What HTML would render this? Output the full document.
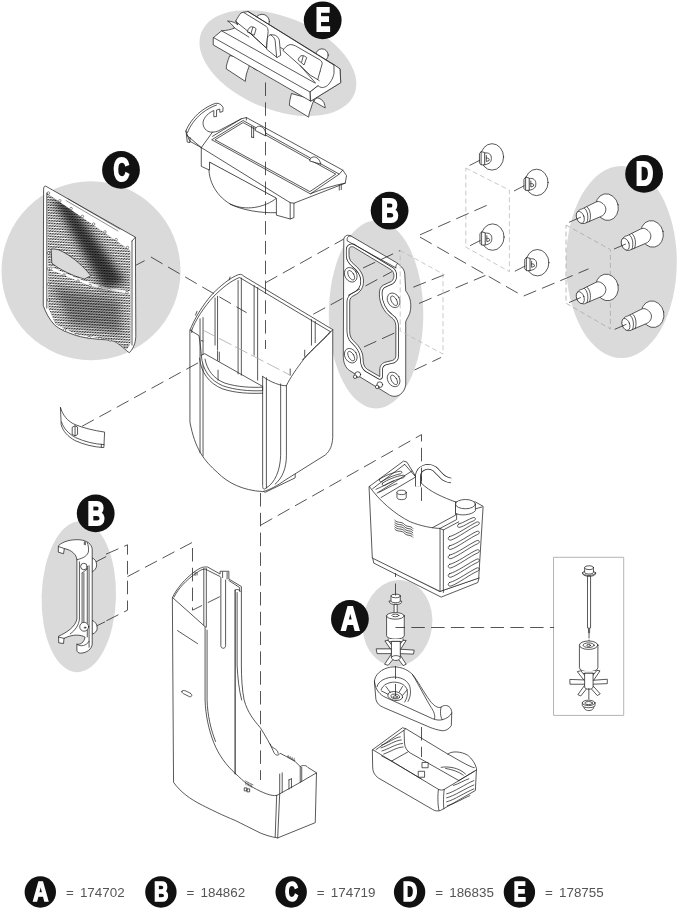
<!DOCTYPE html>
<html lang="en"><head><meta charset="utf-8"><title>Exploded parts diagram</title>
<style>
html,body{margin:0;padding:0;background:#fff;}
body{width:679px;height:910px;overflow:hidden;font-family:"Liberation Sans",sans-serif;}
svg{display:block;}
svg *{vector-effect:non-scaling-stroke;}
.l{fill:none;stroke:#222;stroke-width:.75;stroke-linejoin:round;stroke-linecap:round;vector-effect:non-scaling-stroke;}
.w{fill:#fff;stroke:#222;stroke-width:.75;stroke-linejoin:round;stroke-linecap:round;vector-effect:non-scaling-stroke;}
.d{fill:none;stroke:#2a2a2a;stroke-width:.8;stroke-dasharray:13.5 6.3;vector-effect:non-scaling-stroke;}
.g{fill:none;stroke:#bbb;stroke-width:.8;stroke-dasharray:5 3;vector-effect:non-scaling-stroke;}
.blob{fill:#dadada;}
.badge circle{fill:#111;}
.badge text{fill:#fff;font-family:"Liberation Sans",sans-serif;font-weight:bold;font-size:30px;text-anchor:middle;}
.leg{fill:#555;font-family:"Liberation Sans",sans-serif;font-size:13.4px;}
</style></head><body>
<svg width="679" height="910" viewBox="0 0 679 910">
<rect width="679" height="910" fill="#fff"/>
<!-- 00_blobs.svg -->
<g class="blob">
<ellipse cx="277.9" cy="63.1" rx="82.5" ry="46.4" transform="rotate(22 277.9 63.1)"/>
<circle cx="91" cy="270.7" r="89.5"/>
<ellipse cx="376.05" cy="314.5" rx="47.25" ry="94"/>
<ellipse cx="621.4" cy="262" rx="55.4" ry="96"/>
<ellipse cx="78.8" cy="596.7" rx="37.2" ry="75.5" transform="rotate(1.5 78.8 596.7)"/>
<ellipse cx="397.5" cy="623.2" rx="34.8" ry="43.3" transform="rotate(7 397.5 623.2)"/>
</g>

<!-- 10_E.svg -->
<g transform="translate(190 0) scale(.2504)">
<!-- under tabs -->
<path class="w" d="M158 224 C150 245 144 262 145 275 L221 325 C222 305 228 285 235 268 C238 255 242 242 246 232 Z"/>
<path class="w" d="M405 375 C400 392 397 408 397 421 L474 468 C475 455 478 445 482 436 C486 422 490 410 495 400 Z"/>
<path class="w" d="M495 404 C500 394 506 390 511 391 C522 394 531 402 535 410 C538 418 540 425 540 431 L506 412 Z"/>
<path class="w" d="M245 263 C255 275 262 280 272 280 C285 280 296 275 304 268 Z"/>
<!-- bumps behind -->
<circle class="w" cx="288" cy="86" r="29"/>
<circle class="w" cx="527" cy="220" r="25"/>
<!-- main bar silhouette -->
<path class="w" d="M94 150 L126 123 C145 122 165 118 178 112 C170 100 160 90 150 84 C165 84 180 90 190 98 L213 49 L232 46 L599 275 L602 330 L482 404 L94 180 Z"/>
<!-- left upright plate -->
<path class="w" d="M183 84 C190 70 198 58 203 52 L213 49 L304 105 C310 110 312 118 312 126 L305 192 L235 128 Z"/>
<!-- long lines -->
<path class="l" d="M94 150 L480 368 L480 402 M480 368 L512 343"/>
<path class="l" d="M126 123 L500 332"/>
<path class="l" d="M178 112 L235 148 M190 98 L183 84"/>
<path class="l" d="M232 46 L575 258"/>
<path class="l" d="M362 190 L520 285"/>
<!-- U cut at right end -->
<path class="w" d="M512 343 C520 350 528 350 533 349 C545 346 553 340 559 330 C568 318 573 305 575 293 L575 258 L599 275 L602 330 L482 404 L480 368 Z"/>
<!-- left clip tongue -->
<path class="w" d="M229 126 C232 115 238 108 245 107 C252 107 260 110 264 115 L257 139 Z"/>
<path class="l" d="M251 109 L244 132 M235 128 L305 192"/>
<!-- center post -->
<path class="w" d="M306 195 L309 152 C312 143 318 139 322 139 C332 138 340 140 346 144 C352 150 356 156 357 163 L362 221 L349 229 Z"/>
<path class="l" d="M322 139 C332 146 338 152 340 162 L346 228"/>
<!-- right clip -->
<path class="w" d="M372 200 C378 190 388 180 400 178 C410 178 420 182 428 187 L520 240 C526 245 528 250 528 254 L510 318 L480 300 L440 262 Z"/>
<path class="w" d="M432 238 C436 228 440 222 448 222 C455 222 462 226 466 230 L456 258 Z"/>
<path class="l" d="M452 224 L446 248 M440 262 L500 330 M510 318 L516 322"/>
</g>

<!-- 11_tray.svg -->
<g transform="translate(180 95) scale(.2504)">
<!-- bowl -->
<path class="w" d="M118 268 C105 330 140 400 200 435 C260 465 340 450 385 412 Z"/>
<path class="l" d="M200 436 C250 460 320 472 385 470"/>
<!-- skirt + handle outline -->
<path class="w" d="M24 143 C32 120 55 88 80 68 C100 52 125 38 143 33 C155 31 168 40 172 50 L171 66 L159 69 L159 56 L146 60 L146 86 L135 87 L135 62 L127 66 C108 76 92 95 92 112 C92 130 105 146 122 148 C135 150 150 146 160 140 L245 95 L265 90 L650 300 L665 322 L660 352 L455 432 L455 490 L440 495 L385 480 L385 412 L118 268 L118 300 L85 285 L85 210 L40 185 Z"/>
<path class="l" d="M85 210 L440 430 L455 432 M440 430 L440 495 M24 143 L29 188 L40 190 L40 170 M26 160 L85 210"/>
<path class="l" d="M130 148 L85 210 M30 150 C40 122 62 94 86 74 C106 58 128 46 146 40"/>
<!-- inner rim -->
<path class="l" d="M128 178 L252 102 L636 316 L522 394 Z"/>
<path class="l" d="M141 178 L252 110 L622 316 L520 385 Z"/>
<path class="l" d="M245 95 L130 165 M265 90 L265 100"/>
<!-- pegs, tabs -->
<path class="l" d="M286 125 L286 168 M294 128 L294 170 M286 168 L294 170"/>
<path class="w" d="M300 140 C302 118 335 118 342 150 L342 162 Z"/>
<path class="w" d="M518 262 C520 240 555 240 562 275 Z"/>
<path class="l" d="M636 360 L636 380 M644 356 L644 378 "/>
<path class="l" d="M650 300 L636 316 M660 352 C610 362 560 378 522 394"/>
</g>

<!-- 12_grille.svg -->
<defs>
<clipPath id="hc"><path d="M47.2 193.5 L130.3 250.5 L130.5 343.5 L126.7 349.5 L112.8 340 L99.8 338.2 L75.5 334 L55.5 324 L48.5 308 Z"/></clipPath>
<filter id="bl" x="-30%" y="-30%" width="160%" height="160%"><feGaussianBlur stdDeviation="4"/></filter>
</defs>
<g>
<!-- panel body -->
<path class="w" d="M43.6 189 C43.6 187 44.5 185.6 45.8 186.2 L135.4 237.2 L135.8 334 C136 341 134.5 347 129.5 352.6 C128.4 352.4 127.5 351.5 126.7 350.7 C121 346 117 342 112.8 341 C108 339.8 104 339.6 99.8 339.4 C90 338.5 82 337.5 75.5 335.3 C66 332 59 329 54.4 324.8 C49 319 46 313 43.4 306 Z"/>
<path class="l" d="M46.8 193 L46.8 308 M132 241 L132 345 M135.4 237.2 L132 241"/>
<g clip-path="url(#hc)">
<path d="M40 120.00 L140 176.85 M40 121.56 L140 178.41 M40 123.12 L140 179.97 M40 124.68 L140 181.53 M40 126.24 L140 183.09 M40 127.80 L140 184.65 M40 129.36 L140 186.21 M40 130.92 L140 187.77 M40 132.48 L140 189.33 M40 134.04 L140 190.89 M40 135.60 L140 192.45 M40 137.16 L140 194.01 M40 138.72 L140 195.57 M40 140.28 L140 197.13 M40 141.84 L140 198.69 M40 143.40 L140 200.25 M40 144.96 L140 201.81 M40 146.52 L140 203.37 M40 148.08 L140 204.93 M40 149.64 L140 206.49 M40 151.20 L140 208.05 M40 152.76 L140 209.61 M40 154.32 L140 211.17 M40 155.88 L140 212.73 M40 157.44 L140 214.29 M40 159.00 L140 215.85 M40 160.56 L140 217.41 M40 162.12 L140 218.97 M40 163.68 L140 220.53 M40 165.24 L140 222.09 M40 166.80 L140 223.65 M40 168.36 L140 225.21 M40 169.92 L140 226.77 M40 171.48 L140 228.33 M40 173.04 L140 229.89 M40 174.60 L140 231.45 M40 176.16 L140 233.01 M40 177.72 L140 234.57 M40 179.28 L140 236.13 M40 180.84 L140 237.69 M40 182.40 L140 239.25 M40 183.96 L140 240.81 M40 185.52 L140 242.37 M40 187.08 L140 243.93 M40 188.64 L140 245.49 M40 190.20 L140 247.05 M40 191.76 L140 248.61 M40 193.32 L140 250.17 M40 194.88 L140 251.73 M40 196.44 L140 253.29 M40 198.00 L140 254.85 M40 199.56 L140 256.41 M40 201.12 L140 257.97 M40 202.68 L140 259.53 M40 204.24 L140 261.09 M40 205.80 L140 262.65 M40 207.36 L140 264.21 M40 208.92 L140 265.77 M40 210.48 L140 267.33 M40 212.04 L140 268.89 M40 213.60 L140 270.45 M40 215.16 L140 272.01 M40 216.72 L140 273.57 M40 218.28 L140 275.13 M40 219.84 L140 276.69 M40 221.40 L140 278.25 M40 222.96 L140 279.81 M40 224.52 L140 281.37 M40 226.08 L140 282.93 M40 227.64 L140 284.49 M40 229.20 L140 286.05 M40 230.76 L140 287.61 M40 232.32 L140 289.17 M40 233.88 L140 290.73 M40 235.44 L140 292.29 M40 237.00 L140 293.85 M40 238.56 L140 295.41 M40 240.12 L140 296.97 M40 241.68 L140 298.53 M40 243.24 L140 300.09 M40 244.80 L140 301.65 M40 246.36 L140 303.21 M40 247.92 L140 304.77 M40 249.48 L140 306.33 M40 251.04 L140 307.89 M40 252.60 L140 309.45 M40 254.16 L140 311.01 M40 255.72 L140 312.57 M40 257.28 L140 314.13 M40 258.84 L140 315.69 M40 260.40 L140 317.25 M40 261.96 L140 318.81 M40 263.52 L140 320.37 M40 265.08 L140 321.93 M40 266.64 L140 323.49 M40 268.20 L140 325.05 M40 269.76 L140 326.61 M40 271.32 L140 328.17 M40 272.88 L140 329.73 M40 274.44 L140 331.29 M40 276.00 L140 332.85 M40 277.56 L140 334.41 M40 279.12 L140 335.97 M40 280.68 L140 337.53 M40 282.24 L140 339.09 M40 283.80 L140 340.65 M40 285.36 L140 342.21 M40 286.92 L140 343.77 M40 288.48 L140 345.33 M40 290.04 L140 346.89 M40 291.60 L140 348.45 M40 293.16 L140 350.01 M40 294.72 L140 351.57 M40 296.28 L140 353.13 M40 297.84 L140 354.69 M40 299.40 L140 356.25 M40 300.96 L140 357.81 M40 302.52 L140 359.37 M40 304.08 L140 360.93 M40 305.64 L140 362.49 M40 307.20 L140 364.05 M40 308.76 L140 365.61 M40 310.32 L140 367.17 M40 311.88 L140 368.73 M40 313.44 L140 370.29 M40 315.00 L140 371.85 M40 316.56 L140 373.41 M40 318.12 L140 374.97 M40 319.68 L140 376.53 M40 321.24 L140 378.09 M40 322.80 L140 379.65 M40 324.36 L140 381.21 M40 325.92 L140 382.77 M40 327.48 L140 384.33 M40 329.04 L140 385.89 M40 330.60 L140 387.45 M40 332.16 L140 389.01 M40 333.72 L140 390.57 M40 335.28 L140 392.13 M40 336.84 L140 393.69 M40 338.40 L140 395.25 M40 339.96 L140 396.81" fill="none" stroke="#1c1c1c" stroke-width=".95"/>
<path d="M40 185.00 L140 191.00 M40 187.60 L140 193.60 M40 190.20 L140 196.20 M40 192.80 L140 198.80 M40 195.40 L140 201.40 M40 198.00 L140 204.00 M40 200.60 L140 206.60 M40 203.20 L140 209.20 M40 205.80 L140 211.80 M40 208.40 L140 214.40 M40 211.00 L140 217.00 M40 213.60 L140 219.60 M40 216.20 L140 222.20 M40 218.80 L140 224.80 M40 221.40 L140 227.40 M40 224.00 L140 230.00 M40 226.60 L140 232.60 M40 229.20 L140 235.20 M40 231.80 L140 237.80 M40 234.40 L140 240.40 M40 237.00 L140 243.00 M40 239.60 L140 245.60 M40 242.20 L140 248.20 M40 244.80 L140 250.80 M40 247.40 L140 253.40 M40 250.00 L140 256.00 M40 252.60 L140 258.60 M40 255.20 L140 261.20 M40 257.80 L140 263.80 M40 260.40 L140 266.40 M40 263.00 L140 269.00 M40 265.60 L140 271.60 M40 268.20 L140 274.20 M40 270.80 L140 276.80 M40 273.40 L140 279.40 M40 276.00 L140 282.00 M40 278.60 L140 284.60 M40 281.20 L140 287.20 M40 283.80 L140 289.80 M40 286.40 L140 292.40 M40 289.00 L140 295.00 M40 291.60 L140 297.60 M40 294.20 L140 300.20 M40 296.80 L140 302.80 M40 299.40 L140 305.40 M40 302.00 L140 308.00 M40 304.60 L140 310.60 M40 307.20 L140 313.20 M40 309.80 L140 315.80 M40 312.40 L140 318.40 M40 315.00 L140 321.00 M40 317.60 L140 323.60 M40 320.20 L140 326.20 M40 322.80 L140 328.80 M40 325.40 L140 331.40 M40 328.00 L140 334.00 M40 330.60 L140 336.60 M40 333.20 L140 339.20 M40 335.80 L140 341.80 M40 338.40 L140 344.40 M40 341.00 L140 347.00 M40 343.60 L140 349.60 M40 346.20 L140 352.20 M40 348.80 L140 354.80 M40 351.40 L140 357.40 M40 354.00 L140 360.00" fill="none" stroke="#fff" stroke-width=".95"/>
<path d="M47 266.5 C60 272 75 279 88 283.5 C100 287.5 115 290.5 130 292.5" fill="none" stroke="#fff" stroke-width="2.6"/>
<g filter="url(#bl)" opacity=".7"><path d="M52 198 L68 200 L126 282 L104 290 Z" fill="#000"/></g>
<g filter="url(#bl)" opacity=".35"><path d="M52 285 L120 300 L122 335 L70 325 Z" fill="#000"/></g>

</g>
<!-- slot lines top right -->
<path class="l" d="M66 200.5 L118 231 M68 198.8 L120 229.3" style="stroke-width:.5"/>
<!-- eye cutout -->
<path d="M51.2 249.1 C55 248.8 58 249.5 60.2 250.5 C72 256 83 266 90.9 275.7 L84.5 279 C73 276 60 270 51.8 263.1 Z" fill="#dadada" stroke="#222" stroke-width=".7"/>
<circle cx="48.5" cy="193.0" r="1.25" fill="#fff" stroke="#222" stroke-width=".5"/><circle cx="59.8" cy="200.8" r="1.25" fill="#fff" stroke="#222" stroke-width=".5"/><circle cx="71.1" cy="208.6" r="1.25" fill="#fff" stroke="#222" stroke-width=".5"/><circle cx="82.4" cy="216.4" r="1.25" fill="#fff" stroke="#222" stroke-width=".5"/><circle cx="93.6" cy="224.1" r="1.25" fill="#fff" stroke="#222" stroke-width=".5"/><circle cx="104.9" cy="231.9" r="1.25" fill="#fff" stroke="#222" stroke-width=".5"/><circle cx="116.2" cy="239.7" r="1.25" fill="#fff" stroke="#222" stroke-width=".5"/><circle cx="127.5" cy="247.5" r="1.25" fill="#fff" stroke="#222" stroke-width=".5"/><circle cx="48.5" cy="253.0" r="1.25" fill="#fff" stroke="#222" stroke-width=".5"/><circle cx="48.5" cy="268.7" r="1.25" fill="#fff" stroke="#222" stroke-width=".5"/><circle cx="48.5" cy="284.3" r="1.25" fill="#fff" stroke="#222" stroke-width=".5"/><circle cx="48.5" cy="300.0" r="1.25" fill="#fff" stroke="#222" stroke-width=".5"/><circle cx="50.5" cy="268.5" r="1.25" fill="#fff" stroke="#222" stroke-width=".5"/><circle cx="64.0" cy="275.0" r="1.25" fill="#fff" stroke="#222" stroke-width=".5"/><circle cx="78.0" cy="281.0" r="1.25" fill="#fff" stroke="#222" stroke-width=".5"/><circle cx="90.0" cy="285.5" r="1.25" fill="#fff" stroke="#222" stroke-width=".5"/><circle cx="100.0" cy="287.5" r="1.25" fill="#fff" stroke="#222" stroke-width=".5"/><circle cx="109.0" cy="289.5" r="1.25" fill="#fff" stroke="#222" stroke-width=".5"/><circle cx="127.0" cy="292.5" r="1.25" fill="#fff" stroke="#222" stroke-width=".5"/><circle cx="64.5" cy="330.0" r="1.25" fill="#fff" stroke="#222" stroke-width=".5"/><circle cx="77.0" cy="334.5" r="1.25" fill="#fff" stroke="#222" stroke-width=".5"/><circle cx="89.0" cy="337.5" r="1.25" fill="#fff" stroke="#222" stroke-width=".5"/><circle cx="100.0" cy="338.5" r="1.25" fill="#fff" stroke="#222" stroke-width=".5"/><circle cx="110.0" cy="340.0" r="1.25" fill="#fff" stroke="#222" stroke-width=".5"/><circle cx="126.0" cy="346.0" r="1.25" fill="#fff" stroke="#222" stroke-width=".5"/>
</g>

<!-- 13_body.svg -->
<g transform="translate(180 270) scale(.2504)">
<!-- foot -->
<path class="w" d="M318 874 L340 888 L460 830 L460 812 L330 870 Z"/>
<!-- outer silhouette -->
<path class="w" d="M40 240 C55 200 90 140 130 95 C160 65 200 30 235 18 C245 16 250 20 255 25 L610 238 L610 669 C608 700 600 722 580 739 L420 839 C390 860 360 878 330 885 C250 880 190 850 150 809 C95 760 60 715 40 609 Z"/>
<!-- inner rim -->
<path class="l" d="M47 240 C62 200 95 148 136 104 C166 74 204 42 238 30 L600 246"/>
<path class="l" d="M610 238 C585 270 540 305 495 355 C465 395 440 430 425 462 C405 464 360 448 330 425"/>
<path class="l" d="M600 246 C575 275 535 310 490 358"/>
<!-- left front -->
<path class="l" d="M40 240 L76 262 C80 290 84 320 85 342 M47 240 L47 250"/>
<path class="l" d="M80 195 L80 730 M92 190 L92 742 M85 282 L92 284"/>
<!-- arc insert -->
<path class="w" d="M85 342 C90 400 120 440 170 462 C220 480 280 484 330 482 L330 465 L100 335 Z"/>
<path class="l" d="M78 352 C84 410 116 452 168 474 C220 492 280 494 330 492"/>
<path class="l" d="M100 356 C108 400 135 435 180 452 C230 468 290 470 326 468"/>
<path class="l" d="M150 325 L150 360 M157 328 L157 364 M152 400 L152 440"/>
<!-- front center vertical ribs -->
<path class="l" d="M330 425 L330 860 C330 875 335 880 345 870 M345 430 L345 870 M345 870 C380 850 400 800 402 740 L402 455 M425 462 L425 740 C425 790 410 830 380 855"/>
<!-- interior verticals -->
<path class="l" d="M232 42 L232 415 M245 32 L245 420 M296 62 L296 340 M310 70 L310 440 M140 112 L140 300 M150 105 L150 320"/>
<path class="l" d="M525 198 L525 300 M540 205 L540 290 M498 320 L498 345 M440 395 L440 420"/>
<path class="l" d="M200 28 L196 40 M68 165 L62 180" />
<!-- hidden edge -->
<path d="M92 240 L440 420" fill="none" stroke="#aaa" stroke-width=".8" stroke-dasharray="14 4" vector-effect="non-scaling-stroke"/>
</g>

<!-- 14_gasket.svg -->
<g transform="translate(320 215) scale(.2198)">
<!-- outer plate -->
<path class="w" d="M108 118 C106 98 120 86 140 95 L345 215 C375 235 386 250 386 275 L390 345 C412 375 415 400 412 430 C410 455 395 470 390 485 L390 770 C388 800 365 825 340 825 C325 825 318 820 310 815 L135 708 C115 695 106 670 106 645 Z"/>
<!-- inner cutout -->
<path d="M132 158 C132 145 145 140 156 148 L325 250 C340 262 340 290 325 302 L290 318 C275 325 270 340 270 360 C270 400 290 440 320 462 C340 475 345 490 345 510 L345 640 C345 655 335 662 320 664 L295 670 C278 676 272 690 272 705 L272 735 L215 702 C200 692 196 675 196 655 C196 615 170 590 150 570 C138 558 135 545 135 525 L135 395 C135 380 142 372 155 366 C185 352 198 330 198 300 C198 270 180 245 155 225 C140 212 132 200 132 185 Z" fill="none" stroke="#222" stroke-width="6.2" stroke-linejoin="round"/>
<path d="M132 158 C132 145 145 140 156 148 L325 250 C340 262 340 290 325 302 L290 318 C275 325 270 340 270 360 C270 400 290 440 320 462 C340 475 345 490 345 510 L345 640 C345 655 335 662 320 664 L295 670 C278 676 272 690 272 705 L272 735 L215 702 C200 692 196 675 196 655 C196 615 170 590 150 570 C138 558 135 545 135 525 L135 395 C135 380 142 372 155 366 C185 352 198 330 198 300 C198 270 180 245 155 225 C140 212 132 200 132 185 Z" fill="none" stroke="#fff" stroke-width="4.7" stroke-linejoin="round"/>
<path d="M132 158 C132 145 145 140 156 148 L325 250 C340 262 340 290 325 302 L290 318 C275 325 270 340 270 360 C270 400 290 440 320 462 C340 475 345 490 345 510 L345 640 C345 655 335 662 320 664 L295 670 C278 676 272 690 272 705 L272 735 L215 702 C200 692 196 675 196 655 C196 615 170 590 150 570 C138 558 135 545 135 525 L135 395 C135 380 142 372 155 366 C185 352 198 330 198 300 C198 270 180 245 155 225 C140 212 132 200 132 185 Z" fill="#dadada" stroke="#222" stroke-width=".75"/>
<path class="l" d="M140 95 C125 95 122 105 124 118 L345 240 M352 222 C345 225 345 235 345 240"/>
<!-- holes -->
<g class="w">
<ellipse cx="140" cy="272" rx="27" ry="35" transform="rotate(-30 140 272)"/>
<ellipse cx="335" cy="388" rx="27" ry="35" transform="rotate(-30 335 388)"/>
<ellipse cx="140" cy="640" rx="27" ry="35" transform="rotate(-30 140 640)"/>
<ellipse cx="335" cy="748" rx="27" ry="35" transform="rotate(-30 335 748)"/>
<ellipse cx="142" cy="274" rx="12" ry="24" transform="rotate(-30 142 274)"/>
<ellipse cx="337" cy="390" rx="12" ry="24" transform="rotate(-30 337 390)"/>
<ellipse cx="142" cy="642" rx="12" ry="24" transform="rotate(-30 142 642)"/>
<ellipse cx="337" cy="750" rx="12" ry="24" transform="rotate(-30 337 750)"/>
<circle cx="172" cy="726" r="13"/><circle cx="160" cy="736" r="8"/>
<circle cx="272" cy="772" r="13"/><circle cx="260" cy="782" r="8"/>
</g>
</g>

<!-- 15_cups.svg -->
<path class="g" d="M465.8 168 L509.4 190.2 L509.4 271.7 L465.8 247 Z"/>
<g transform="translate(492.1 156.9)">
<ellipse class="w" cx="0" cy="0" rx="11.5" ry="13.2"/>
<path class="w" d="M-7.4 -3.8 C-3 -5 -0.5 -2 -0.8 1.5 C-0.6 4.5 -2 7 -7.4 7.9 Z"/>
<path class="w" d="M-12.4 -3.6 L-11 -5.2 L-7.4 -4.4 L-7.4 7.9 L-10.8 8 L-12.4 6.4 Z"/>
<path class="l" d="M-11 -5.2 L-11 7.8 M-5.8 -1.5 L-5.8 4.6 L-3 3.6 C-2.6 2 -3.5 0.8 -5.8 1.2 M-12.4 3.4 L-22.2 8.4"/>
</g>
<g transform="translate(536.6 182.4)">
<ellipse class="w" cx="0" cy="0" rx="11.5" ry="13.2"/>
<path class="w" d="M-7.4 -3.8 C-3 -5 -0.5 -2 -0.8 1.5 C-0.6 4.5 -2 7 -7.4 7.9 Z"/>
<path class="w" d="M-12.4 -3.6 L-11 -5.2 L-7.4 -4.4 L-7.4 7.9 L-10.8 8 L-12.4 6.4 Z"/>
<path class="l" d="M-11 -5.2 L-11 7.8 M-5.8 -1.5 L-5.8 4.6 L-3 3.6 C-2.6 2 -3.5 0.8 -5.8 1.2 M-12.4 3.4 L-22.2 8.4"/>
</g>
<g transform="translate(492.6 237.1)">
<ellipse class="w" cx="0" cy="0" rx="11.5" ry="13.2"/>
<path class="w" d="M-7.4 -3.8 C-3 -5 -0.5 -2 -0.8 1.5 C-0.6 4.5 -2 7 -7.4 7.9 Z"/>
<path class="w" d="M-12.4 -3.6 L-11 -5.2 L-7.4 -4.4 L-7.4 7.9 L-10.8 8 L-12.4 6.4 Z"/>
<path class="l" d="M-11 -5.2 L-11 7.8 M-5.8 -1.5 L-5.8 4.6 L-3 3.6 C-2.6 2 -3.5 0.8 -5.8 1.2 M-12.4 3.4 L-22.2 8.4"/>
</g>
<g transform="translate(537.4 262.7)">
<ellipse class="w" cx="0" cy="0" rx="11.5" ry="13.2"/>
<path class="w" d="M-7.4 -3.8 C-3 -5 -0.5 -2 -0.8 1.5 C-0.6 4.5 -2 7 -7.4 7.9 Z"/>
<path class="w" d="M-12.4 -3.6 L-11 -5.2 L-7.4 -4.4 L-7.4 7.9 L-10.8 8 L-12.4 6.4 Z"/>
<path class="l" d="M-11 -5.2 L-11 7.8 M-5.8 -1.5 L-5.8 4.6 L-3 3.6 C-2.6 2 -3.5 0.8 -5.8 1.2 M-12.4 3.4 L-22.2 8.4"/>
</g>

<!-- 16_screws.svg -->
<path class="g" d="M566 225 L610.4 249.6 L610.4 328.9 L566 303.2 Z" style="stroke:#aaa"/>
<g transform="translate(607 207.1)">
<ellipse class="w" cx="0" cy="0" rx="11.3" ry="13.4" transform="rotate(-12)"/>
<path class="w" d="M-11.5 -4.9 C-9.5 -6 -7.5 -5.6 -6.4 -5 C-2.6 -3 -0.8 0 -1.2 3 C-1.5 6 -3.5 8.4 -6.2 9.4 L-22.6 16.4 C-26.5 17 -30 13 -30.3 9.5 C-30.5 5.5 -28.4 2.2 -25.6 2 Z"/>
<ellipse class="w" cx="-26.7" cy="10.2" rx="3.7" ry="6.2" transform="rotate(-20 -26.7 10.2)"/>
<path class="l" d="M-22.6 1 C-19.6 3 -18 10 -20 15.2 M-20 -0.2 C-17 1.8 -15.4 9 -17.4 14.2"/>
<path class="l" d="M-26.5 10.2 L-37.6 15"/>
</g>
<g transform="translate(652 233.9)">
<ellipse class="w" cx="0" cy="0" rx="11.3" ry="13.4" transform="rotate(-12)"/>
<path class="w" d="M-11.5 -4.9 C-9.5 -6 -7.5 -5.6 -6.4 -5 C-2.6 -3 -0.8 0 -1.2 3 C-1.5 6 -3.5 8.4 -6.2 9.4 L-22.6 16.4 C-26.5 17 -30 13 -30.3 9.5 C-30.5 5.5 -28.4 2.2 -25.6 2 Z"/>
<ellipse class="w" cx="-26.7" cy="10.2" rx="3.7" ry="6.2" transform="rotate(-20 -26.7 10.2)"/>
<path class="l" d="M-22.6 1 C-19.6 3 -18 10 -20 15.2 M-20 -0.2 C-17 1.8 -15.4 9 -17.4 14.2"/>
<path class="l" d="M-26.5 10.2 L-37.6 15"/>
</g>
<g transform="translate(607 287.4)">
<ellipse class="w" cx="0" cy="0" rx="11.3" ry="13.4" transform="rotate(-12)"/>
<path class="w" d="M-11.5 -4.9 C-9.5 -6 -7.5 -5.6 -6.4 -5 C-2.6 -3 -0.8 0 -1.2 3 C-1.5 6 -3.5 8.4 -6.2 9.4 L-22.6 16.4 C-26.5 17 -30 13 -30.3 9.5 C-30.5 5.5 -28.4 2.2 -25.6 2 Z"/>
<ellipse class="w" cx="-26.7" cy="10.2" rx="3.7" ry="6.2" transform="rotate(-20 -26.7 10.2)"/>
<path class="l" d="M-22.6 1 C-19.6 3 -18 10 -20 15.2 M-20 -0.2 C-17 1.8 -15.4 9 -17.4 14.2"/>
<path class="l" d="M-26.5 10.2 L-37.6 15"/>
</g>
<g transform="translate(652.6 314.2)">
<ellipse class="w" cx="0" cy="0" rx="11.3" ry="13.4" transform="rotate(-12)"/>
<path class="w" d="M-11.5 -4.9 C-9.5 -6 -7.5 -5.6 -6.4 -5 C-2.6 -3 -0.8 0 -1.2 3 C-1.5 6 -3.5 8.4 -6.2 9.4 L-22.6 16.4 C-26.5 17 -30 13 -30.3 9.5 C-30.5 5.5 -28.4 2.2 -25.6 2 Z"/>
<ellipse class="w" cx="-26.7" cy="10.2" rx="3.7" ry="6.2" transform="rotate(-20 -26.7 10.2)"/>
<path class="l" d="M-22.6 1 C-19.6 3 -18 10 -20 15.2 M-20 -0.2 C-17 1.8 -15.4 9 -17.4 14.2"/>
<path class="l" d="M-26.5 10.2 L-37.6 15"/>
</g>

<!-- 17_clipB.svg -->
<g transform="translate(45 530) scale(.1484)">
<!-- side nubs -->
<path class="w" d="M318 188 C335 195 348 210 348 235 C348 258 335 272 318 282 Z"/>
<path class="w" d="M318 608 C338 618 352 635 352 660 C352 682 338 695 318 702 Z"/>
<path class="l" d="M345 214 L410 180 M350 645 L402 620"/>
<!-- main silhouette -->
<path class="w" d="M92 105 C120 75 180 62 235 66 C285 72 315 95 318 130 L318 770 C315 800 285 828 240 830 C225 830 215 822 215 810 L215 770 C240 772 262 760 270 722 C240 705 190 700 128 730 L125 765 L92 760 L92 715 C150 690 205 650 215 600 L215 200 C212 165 180 135 130 125 L125 160 L92 150 Z"/>
<path class="l" d="M130 125 L92 112 M128 730 L92 722 M215 200 C235 195 280 185 292 150 C296 130 292 100 285 85"/>
<path class="l" d="M232 215 L232 600 C228 640 205 675 170 700"/>
<path class="l" d="M250 290 L250 625 M262 290 L262 625 M285 250 L285 720 M297 240 L297 790 M250 290 L285 262"/>
<path class="l" d="M265 80 L265 98 M272 82 L272 100"/>
<circle class="w" cx="262" cy="246" r="22"/>
<circle class="w" cx="264" cy="652" r="30"/>
<circle class="l" cx="270" cy="658" r="5"/>
<path class="l" d="M215 770 C240 790 280 780 297 750"/>
</g>

<!-- 18_housing.svg -->
<g transform="translate(160 565) scale(.2504)">
<!-- silhouette -->
<path class="w" d="M50 130 C65 95 100 55 140 25 C155 15 168 8 178 8 L190 8 L240 36 L240 25 L275 25 L275 56 L325 86 L325 400 C325 450 328 500 336 539 C350 590 375 620 400 649 C420 680 440 715 452 742 C458 760 470 765 480 752 L505 765 L540 785 L560 805 C570 798 585 800 590 808 L625 830 L620 1029 L470 1090 C440 1085 420 1078 400 1070 C360 1050 330 1035 300 1020 C250 1000 200 975 170 960 C120 935 80 905 55 869 Z"/>
<!-- top opening inner -->
<path class="l" d="M50 130 L180 246 M56 128 C72 95 105 60 142 34 C158 22 170 16 180 16 L240 46 M275 62 L318 90 L318 105"/>
<path class="l" d="M175 14 L175 240 M185 14 L185 248 M180 246 L180 539 C182 600 195 660 215 710 C235 760 265 800 300 832 M188 260 L188 539 C190 600 202 655 222 705"/>
<path class="l" d="M140 28 L140 42 M148 30 L148 40"/>
<!-- slot -->
<path class="l" d="M243 50 L243 322 C243 336 262 336 262 322 L262 60 M250 28 L250 50 M268 30 L268 56"/>
<!-- dark vertical line -->
<path class="l" d="M300 100 L300 834" style="stroke-width:1.1"/>
<path class="l" d="M300 100 C305 95 318 98 322 105 M308 110 L308 400 C310 450 316 500 326 539"/>
<!-- small marks -->
<path class="l" d="M70 262 L150 314"/>
<path class="l" d="M88 504 C92 498 100 500 124 514 C130 520 126 528 118 526 L94 514 C88 510 86 508 88 504 Z"/>
<!-- box -->
<path class="l" d="M300 832 C320 850 335 865 345 872 C380 895 420 915 448 920 C462 922 470 920 478 914 L560 868 L625 830"/>
<path class="l" d="M478 914 L470 1090 M466 920 L460 1086"/>
<path class="l" d="M478 835 L478 912 M488 830 L488 908 M515 858 L515 895 M525 854 L525 890 M515 858 L525 854 M560 805 L560 868 M566 808 L566 864"/>
<path class="l" d="M340 862 L372 878 M342 868 L342 876 M348 870 L348 880 M354 873 L354 882 M360 876 L360 886 M366 878 L366 888" style="stroke-width:.5"/>
<path class="l" d="M508 764 L540 782 M512 760 L512 768 M520 764 L520 772 M528 768 L528 776 M536 772 L536 780" style="stroke-width:.5"/>
<rect class="l" x="338" y="890" width="9" height="12"/><rect class="l" x="349" y="894" width="9" height="12"/>
<path class="l" d="M440 715 C445 735 470 730 472 752"/>
</g>

<!-- 19_motor.svg -->
<g transform="translate(355 450) scale(.2209)">
<!-- base -->
<path class="w" d="M80 488 L85 512 L390 666 L556 600 L562 578 L385 640 Z"/>
<!-- body silhouette -->
<path class="w" d="M65 165 L220 50 L235 55 L275 120 L300 150 C340 190 400 215 455 235 L545 235 L580 255 L560 580 L385 640 L80 490 Z"/>
<!-- front top concave edge -->
<path class="l" d="M65 165 C110 230 180 290 250 325 C300 345 350 354 385 355 L385 640 M385 355 L460 315 L460 290 L575 258"/>
<path class="l" d="M400 362 L400 645 M385 355 L400 362 L470 325"/>
<path class="l" d="M350 352 L455 295 L455 235"/>
<!-- top surface lines -->
<path class="l" d="M80 175 L225 65 M100 195 L258 95 M118 215 L275 122 M225 65 L275 122"/>
<path class="l" d="M300 150 L300 120"/>
<!-- top slots -->
<g class="l">
<path d="M112 132 C130 118 175 100 205 96 C215 96 215 104 205 108 C175 114 140 130 122 142 C112 146 106 138 112 132 Z"/>
<path d="M125 150 C143 136 188 118 218 114 C228 114 228 122 218 126 C188 132 153 148 135 160 C125 164 119 156 125 150 Z"/>
<path d="M95 178 C120 168 150 150 175 140 M108 192 C135 180 165 160 190 152"/>
</g>
<!-- knob -->
<path class="w" d="M190 192 L190 215 C190 228 232 228 232 215 L232 192"/>
<ellipse class="w" cx="211" cy="192" rx="21" ry="10"/>
<!-- cylinder -->
<path class="w" d="M455 245 L455 285 C470 300 530 295 545 275 L545 245"/>
<ellipse class="w" cx="500" cy="245" rx="45" ry="21"/>
<!-- hose -->
<path d="M285 165 L285 115 C290 80 330 65 360 85 C385 105 395 135 435 138" fill="none" stroke="#222" stroke-width="5.6" stroke-linecap="butt"/>
<path d="M285 166 L285 115 C290 80 330 65 360 85 C385 105 395 135 437 138" fill="none" stroke="#fff" stroke-width="4.1" stroke-linecap="butt"/>
<!-- waves -->
<g class="l">
<path d="M180 318 C195 335 210 320 225 338 C240 352 250 340 262 355"/>
<path d="M180 328 C195 345 210 330 225 348 C240 362 250 350 262 365"/>
<path d="M180 338 C195 355 210 340 225 358 C240 372 250 360 262 375"/>
<path d="M180 348 C195 365 210 350 225 368 C240 382 250 370 262 385"/>
<path d="M180 358 C195 375 210 360 225 378 C240 392 250 380 262 395"/>
</g>
<!-- side slots -->
<g class="l">
<path d="M470 335 C490 330 515 312 535 306 C548 304 548 316 538 320 C515 328 495 345 475 350 C462 352 460 340 470 335 Z"/>
<path d="M428 392 C460 385 520 340 552 326 C565 322 566 336 556 340 C525 352 465 398 434 408 C420 410 418 396 428 392 Z"/>
<path d="M428 434 C460 427 520 382 552 368 C565 364 566 378 556 382 C525 394 465 440 434 450 C420 452 418 438 428 434 Z"/>
<path d="M428 476 C460 469 520 424 552 410 C565 406 566 420 556 424 C525 436 465 482 434 492 C420 494 418 480 428 476 Z"/>
<path d="M428 518 C460 511 520 466 552 452 C565 448 566 462 556 466 C525 478 465 524 434 534 C420 536 418 522 428 518 Z"/>
<path d="M428 560 C460 553 520 508 552 494 C565 490 566 504 556 508 C525 520 465 566 434 576 C420 578 418 564 428 560 Z"/>
<path d="M428 600 C460 593 520 548 552 534 C565 530 566 544 556 548 C525 560 465 606 434 616 C420 618 418 604 428 600 Z"/>
</g>
</g>

<!-- 20_impeller.svg -->
<g transform="translate(355 575) scale(.2209)">
<!-- top cap -->
<path class="w" d="M155 122 C155 138 211 138 211 122 L211 118 L155 118 Z"/>
<path class="w" d="M163 95 L163 118 C163 128 205 128 205 118 L205 95 Z"/>
<ellipse class="w" cx="184" cy="95" rx="21" ry="8"/>
<path class="w" d="M177 134 L177 178 L191 178 L191 134 Z"/>
<!-- magnet -->
<path class="w" d="M143 185 L143 275 C143 295 223 295 223 275 L223 185 Z"/>
<ellipse class="w" cx="183" cy="185" rx="40" ry="15"/>
<ellipse class="w" cx="183" cy="183" rx="16" ry="6"/>
<path class="w" d="M150 290 L150 302 L218 302 L218 290"/>
<!-- blades -->
<path class="w" d="M137 298 L150 296 L178 332 L166 340 Z"/>
<path class="w" d="M230 296 L217 296 L190 332 L202 340 Z"/>
<path class="w" d="M96 336 L100 356 L165 356 L165 336 Z"/>
<path class="w" d="M205 336 L268 340 L265 358 L205 356 Z"/>
<path class="w" d="M166 356 L134 404 L150 409 L182 370 Z"/>
<path class="w" d="M200 356 L232 404 L218 410 L188 370 Z"/>
<path class="w" d="M165 302 L165 372 C165 392 205 392 205 372 L205 302 Z"/>
<path class="l" d="M165 372 C170 362 200 362 205 372"/>
</g>

<!-- 21_cover.svg -->
<g transform="translate(355 575) scale(.2209)">
<path class="w" d="M88 480 C90 450 120 425 160 417 C200 412 235 425 260 450 C285 480 310 530 340 570 C355 590 375 605 390 598 C400 588 420 588 430 600 C436 608 438 615 438 625 L436 682 C425 698 410 706 395 705 C375 702 355 696 340 690 L130 600 C110 592 98 580 95 565 Z"/>
<path class="l" d="M88 480 C90 510 105 535 130 550 L350 650 C370 658 385 658 395 655 C415 650 430 640 438 625"/>
<path class="l" d="M395 655 C385 640 385 615 390 598"/>
<!-- inner bowl -->
<path class="l" d="M100 505 C105 480 140 462 180 462 C215 464 240 480 248 505 C255 530 250 555 240 572"/>
<path class="l" d="M118 520 C125 498 150 485 180 485 C210 487 230 500 236 520 C240 540 235 560 225 575"/>
<ellipse class="w" cx="182" cy="548" rx="34" ry="20" transform="rotate(10 182 548)"/>
<ellipse class="l" cx="182" cy="550" rx="20" ry="11" transform="rotate(10 182 550)"/>
<ellipse class="l" cx="182" cy="552" rx="10" ry="5"/>
<path class="l" d="M150 540 L120 525 M215 545 L236 520 M200 530 L215 505 M160 532 L140 505"/>
<path class="l" d="M260 450 C290 500 320 560 345 600 C355 615 365 635 360 652"/>
</g>

<!-- 22_btray.svg -->
<g transform="translate(355 690) scale(.2209)">
<path class="w" d="M80 270 L215 171 L230 175 L420 290 C440 275 480 278 510 295 C530 310 545 335 550 355 L545 455 L388 545 C375 550 362 548 350 540 L105 398 C88 385 80 370 80 350 Z"/>
<path class="l" d="M80 270 L378 450 C388 454 396 454 404 450 L550 362"/>
<path class="l" d="M378 450 C374 470 374 520 380 545 M404 450 C400 470 400 520 402 538"/>
<path class="l" d="M95 270 L222 182 L224 240 C226 262 235 275 250 285 L470 410 M222 182 L230 175"/>
<path class="l" d="M240 280 L165 322 L300 402 M165 322 L120 298"/>
<path class="l" d="M390 350 C420 345 470 350 500 380 M420 290 C440 300 520 350 540 352 M470 410 L540 368 M410 355 C440 360 470 370 490 385"/>
<g class="l">
<path d="M120 250 C150 240 180 215 205 212 M118 262 C150 252 180 228 210 226 M122 276 C150 268 185 244 215 242 M130 290 C160 280 190 258 218 258"/>
<path d="M445 432 C470 425 495 408 515 402 M415 470 C450 462 500 425 538 410 M415 488 C450 480 500 445 538 430 M415 506 C450 498 500 462 538 448 M418 524 C450 516 490 490 520 478"/>
</g>
<rect class="w" x="305" y="328" width="26" height="24"/>
<rect class="w" x="288" y="368" width="27" height="27"/>
</g>

<!-- 23_detail.svg -->
<rect x="553.5" y="557.3" width="70.2" height="158.1" fill="#fff" stroke="#b5b5b5" stroke-width="1"/>
<g transform="translate(540 550) scale(.1923)">
<!-- top cap -->
<path class="w" d="M221 122 C221 142 289 142 289 122 L289 118 L221 118 Z"/>
<ellipse class="w" cx="255" cy="120" rx="34" ry="12"/>
<path class="w" d="M232 92 L232 116 C232 128 278 128 278 116 L278 92 Z"/>
<ellipse class="w" cx="255" cy="92" rx="23" ry="10"/>
<!-- shaft -->
<path class="w" d="M247 138 L247 405 L252 405 L252 430 L258 430 L258 405 L263 405 L263 138 Z"/>
<path class="l" d="M255 432 L255 490" style="stroke-dasharray:5 2"/>
<!-- magnet -->
<path class="w" d="M205 495 L205 612 C205 640 301 640 301 612 L301 495 Z"/>
<ellipse class="w" cx="253" cy="495" rx="48" ry="22"/>
<ellipse class="l" cx="253" cy="495" rx="29" ry="12"/>
<ellipse class="l" cx="253" cy="496" rx="10" ry="5"/>
<path class="w" d="M213 630 L213 642 L295 642 L295 630"/>
<!-- blades -->
<path class="w" d="M196 632 L212 628 L246 668 L232 678 Z"/>
<path class="w" d="M310 628 L296 626 L262 668 L276 678 Z"/>
<path class="w" d="M155 675 L156 698 L236 698 L236 678 Z"/>
<path class="w" d="M270 678 L350 672 L350 695 L270 698 Z"/>
<path class="w" d="M236 698 L197 752 L212 759 L250 712 Z"/>
<path class="w" d="M268 698 L313 748 L298 757 L258 712 Z"/>
<path class="w" d="M232 642 L232 712 C232 728 276 728 276 712 L276 642 Z"/>
<path class="l" d="M254 720 L254 775"/>
<!-- bottom cap -->
<path class="w" d="M226 812 L232 826 C240 838 268 838 276 826 L282 812"/>
<path class="w" d="M220 795 L220 808 C220 824 286 824 286 808 L286 795 Z"/>
<ellipse class="w" cx="253" cy="795" rx="33" ry="14"/>
<ellipse class="l" cx="253" cy="796" rx="20" ry="8"/>
</g>

<!-- 24_small.svg -->
<g transform="translate(40 385) scale(.2504)">
<path class="w" d="M82 90 C90 120 110 145 140 158 C175 172 215 182 258 188 L255 250 C215 248 175 238 140 222 C110 205 92 185 85 160 Z"/>
<path class="l" d="M86 148 C95 175 115 195 142 210 C178 226 215 236 256 238 M245 237 L245 249"/>
<path class="w" d="M130 168 L140 163 L150 168 L150 198 L140 203 L130 198 Z"/>
<path class="l" d="M140 163 L140 203"/>
</g>

<!-- 80_dashes.svg -->
<g class="d">
<!-- main vertical from E to body -->
<path d="M265.5 82.5 L265.5 349"/>
<!-- body bottom vertical -->
<path d="M260.5 493 L260.5 780"/>
<!-- C grille to body -->
<path d="M136.1 265.1 L144.6 260.7"/>
<path d="M150.9 257 L246.6 312.7"/>
<!-- small piece to body -->
<path d="M82 426.3 L201.5 361"/>
<!-- body to gasket -->
<path d="M265.5 282.8 L343.8 239" />
<path d="M313.3 314.2 L392 271.6"/>
<path d="M363 268 L400.2 250.5"/>
<path d="M364 346.9 L400 330.5"/>
<!-- gasket to right -->
<path d="M413.3 287.2 L444.2 274.8"/>
<path d="M419.1 303.4 L485.4 275.4"/>
<path d="M414.5 370 L441 357.5"/>
<!-- cups / screws -->
<path d="M420 234.8 L486.9 205.3"/>
<path d="M420 237.1 L517.8 293.1"/>
<path d="M523.7 296 L588.5 268.9"/>
<!-- body bottom to motor -->
<path d="M260.5 525.3 L421.5 434.6 L421.5 507"/>
<path d="M421.5 727 L421.5 757"/>
<path d="M395.5 573 L395.5 577 M395.5 583.5 L395.5 595.5 M395.5 666 L395.5 679 M395.5 684 L395.5 696"/>
<!-- A to box -->
<path d="M395.5 627.5 L405 627.5"/>
<path d="M411.3 627.5 L554 627.5"/>
<!-- lower B clip -->
<path d="M106 554.2 L127.5 544.8 L127.5 610.2 L106 621"/>
<path d="M127.5 576.6 L192.5 542.3 L192.5 610.2 L222.6 595.3"/>
</g>
<path class="g" d="M400.2 250.5 L443 274 L443 354 L400.2 331 Z"/>

<!-- 90_badges.svg -->
<g class="badge" opacity=".999">
<circle cx="322.7" cy="20.3" r="18.9"/><text transform="translate(323.10 31.40) scale(0.67 1)" style="font-size:32.50px;stroke:#fff;stroke-width:1.70;stroke-linejoin:miter">E</text>
<circle cx="121" cy="169.9" r="18.9"/><text transform="translate(121.40 181.00) scale(0.67 1)" style="font-size:32.50px;stroke:#fff;stroke-width:1.70;stroke-linejoin:miter">C</text>
<circle cx="389.6" cy="210.7" r="18.9"/><text transform="translate(390.00 221.80) scale(0.74 1)" style="font-size:32.50px;stroke:#fff;stroke-width:1.70;stroke-linejoin:miter">B</text>
<circle cx="644.1" cy="173.9" r="18.9"/><text transform="translate(644.50 185.00) scale(0.745 1)" style="font-size:32.50px;stroke:#fff;stroke-width:1.70;stroke-linejoin:miter">D</text>
<circle cx="95.7" cy="513.4" r="18.9"/><text transform="translate(96.10 524.50) scale(0.74 1)" style="font-size:32.50px;stroke:#fff;stroke-width:1.70;stroke-linejoin:miter">B</text>
<circle cx="349.9" cy="618.9" r="18.9"/><text transform="translate(350.30 630.00) scale(0.79 1)" style="font-size:32.50px;stroke:#fff;stroke-width:1.70;stroke-linejoin:miter">A</text>
<circle cx="40.3" cy="892" r="15.7"/><text transform="translate(40.60 901.24) scale(0.79 1)" style="font-size:27.00px;stroke:#fff;stroke-width:1.41;stroke-linejoin:miter">A</text>
<circle cx="160.9" cy="892" r="15.7"/><text transform="translate(161.20 901.24) scale(0.74 1)" style="font-size:27.00px;stroke:#fff;stroke-width:1.41;stroke-linejoin:miter">B</text>
<circle cx="291.2" cy="892" r="15.7"/><text transform="translate(291.50 901.24) scale(0.67 1)" style="font-size:27.00px;stroke:#fff;stroke-width:1.41;stroke-linejoin:miter">C</text>
<circle cx="409.6" cy="892" r="15.7"/><text transform="translate(409.90 901.24) scale(0.745 1)" style="font-size:27.00px;stroke:#fff;stroke-width:1.41;stroke-linejoin:miter">D</text>
<circle cx="519.4" cy="892" r="15.7"/><text transform="translate(519.70 901.24) scale(0.67 1)" style="font-size:27.00px;stroke:#fff;stroke-width:1.41;stroke-linejoin:miter">E</text>
</g>
<g class="leg" opacity=".999">
<text y="896.7"><tspan x="65.9">=</tspan><tspan x="79.9">174702</tspan></text>
<text y="896.7"><tspan x="186.5">=</tspan><tspan x="200.5">184862</tspan></text>
<text y="896.7"><tspan x="316.8">=</tspan><tspan x="330.8">174719</tspan></text>
<text y="896.7"><tspan x="435.2">=</tspan><tspan x="449.2">186835</tspan></text>
<text y="896.7"><tspan x="545.0">=</tspan><tspan x="559.0">178755</tspan></text>
</g>



</svg>
</body></html>
